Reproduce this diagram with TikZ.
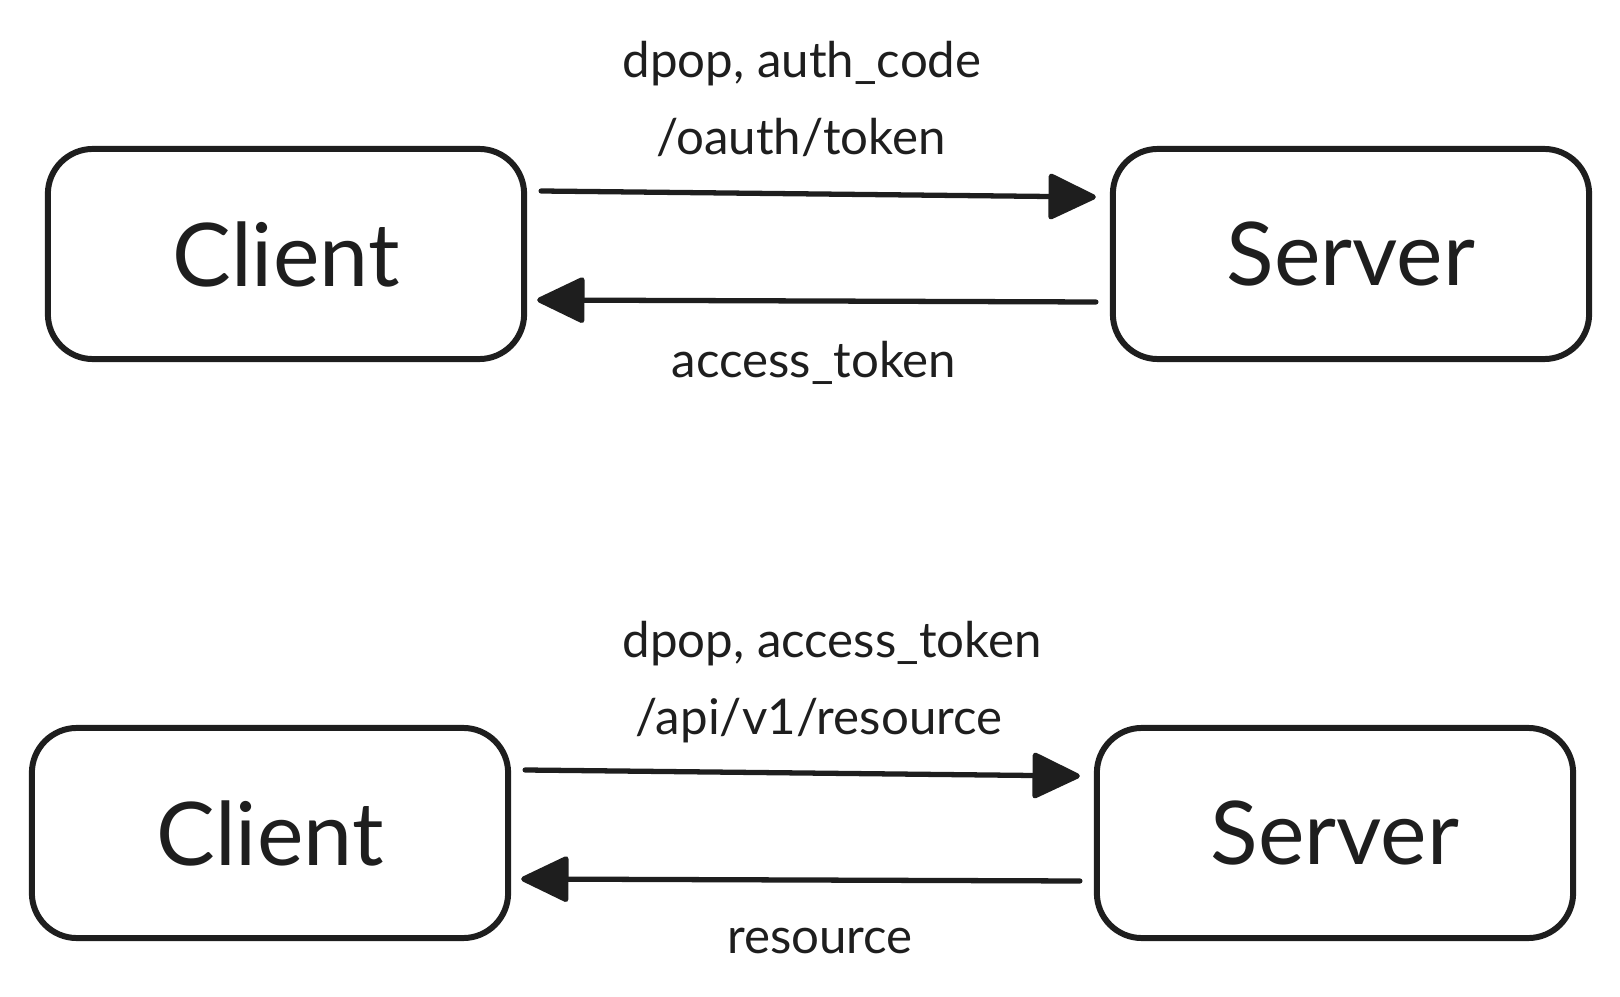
\documentclass[tikz,border=0pt]{standalone}
\usepackage{fontspec}
\setmainfont{Lato}
\usetikzlibrary{arrows.meta}
\definecolor{ink}{HTML}{1E1E1E}
\tikzset{
  party/.style={draw=ink, line width=1.7pt, rounded corners=0.45cm,
    minimum width=4.76cm, minimum height=2.1cm, text=ink,
    font=\fontsize{25}{30}\selectfont},
  msg/.style={draw=ink, line width=1.5pt, line cap=round,
    -{Triangle[length=14.5pt,width=13.5pt,round]}},
  lbl/.style={text=ink, anchor=base, inner sep=0pt,
    font=\fontsize{14}{17}\selectfont}
}
\begin{document}
\begin{tikzpicture}[x=0.01cm,y=-0.01cm]
        \useasboundingbox (0,0) rectangle (1620,997);
                        % Token request (top)
                        \node[party] (c1) at (286, 254) {Client};
                        \node[party] (s1) at (1351, 254) {Server};
                        \node[lbl] (l1) at (802, 78) {dpop, auth\_code};
                        \node[lbl] (l2) at (801, 155) {/oauth/token};
                        \node[lbl] (l3) at (814, 378) {access\_token};

                        \draw[msg] ([shift={(14,-63)}]c1.east) --
                        ([shift={(-14,-57)}]s1.west); \draw[msg]
                        ([shift={(-14,48)}]s1.west) --
                        ([shift={(10,46)}]c1.east);

                        % Resource request (bottom)
                        \node[party] (c2) at (270, 833) {Client};
                        \node[party] (s2) at (1335, 833) {Server};
                        \node[lbl] (l4) at (832, 657) {dpop, access\_token};
                        \node[lbl] (l5) at (819, 735) {/api/v1/resource};
                        \node[lbl] (l6) at (820, 953) {resource};

                        \draw[msg] ([shift={(14,-63)}]c2.east) --
                        ([shift={(-14,-57)}]s2.west); \draw[msg]
                        ([shift={(-14,48)}]s2.west) --
                        ([shift={(10,46)}]c2.east);
        \end{tikzpicture}
\end{document}
